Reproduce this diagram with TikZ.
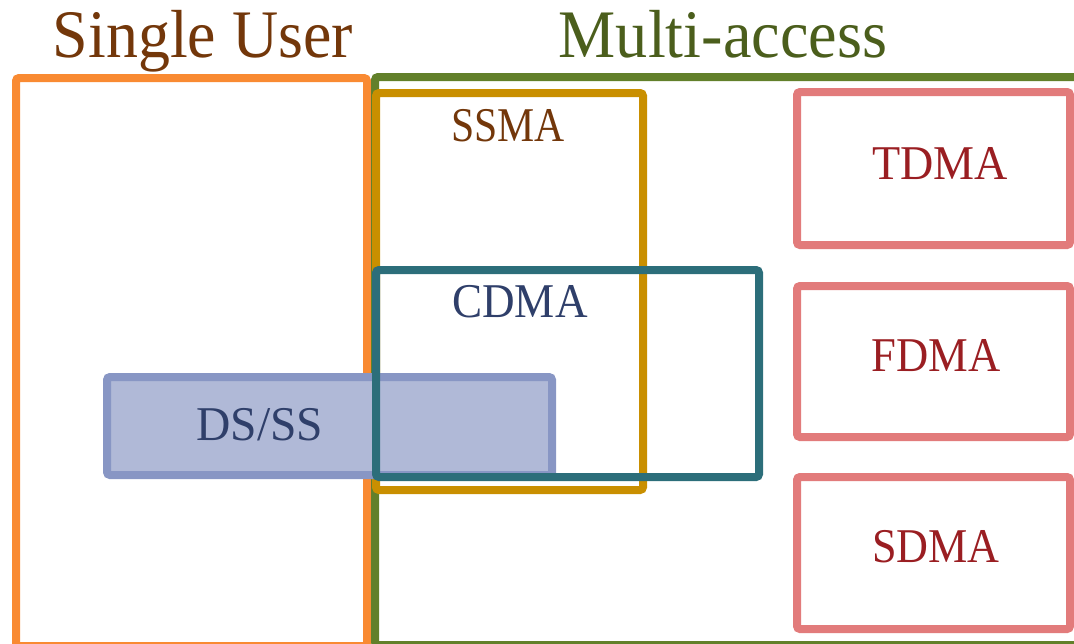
\documentclass[tikz,border=0pt]{standalone}
\usepackage{fontspec}
\setmainfont{Liberation Serif}
\definecolor{cOrange}{HTML}{F98A32}
\definecolor{cGreen}{HTML}{62802A}
\definecolor{cGold}{HTML}{C98F00}
\definecolor{cTeal}{HTML}{2C6E7A}
\definecolor{cDsFill}{HTML}{B0B9D7}
\definecolor{cDsLine}{HTML}{8896C4}
\definecolor{cRed}{HTML}{E27B7B}
\definecolor{tBrown}{HTML}{73370A}
\definecolor{tGreen}{HTML}{4B5E1C}
\definecolor{tBlue}{HTML}{2F3F6A}
\definecolor{tRed}{HTML}{9A1E22}
\begin{document}
\begin{tikzpicture}[x=1pt,y=-1pt,
  boxline/.style={line width=8pt, rounded corners=3pt},
  title/.style={anchor=base, inner sep=0pt, font=\fontsize{68}{72}\selectfont},
  lbl/.style={anchor=base, inner sep=0pt, font=\fontsize{48.5}{52}\selectfont}]
\useasboundingbox (0,0) rectangle (1074,643);
\begin{scope}
\clip (0,0) rectangle (1074,643);
% Single user
\draw[boxline, cOrange] (16,78) rectangle (367,646);
% Multi-access
\draw[boxline, cGreen] (375,77) rectangle (1090,645);
% SSMA
\draw[boxline, cGold] (376,93) rectangle (643,490);
% TDMA / FDMA / SDMA
\draw[boxline, cRed] (797,92) rectangle (1070,245);
\draw[boxline, cRed] (797,286) rectangle (1070,437);
\draw[boxline, cRed] (797,477) rectangle (1070,629);
% DS/SS
\draw[boxline, draw=cDsLine, fill=cDsFill] (107,377) rectangle (552,475);
% CDMA
\draw[boxline, cTeal] (376,270) rectangle (759,477);
\end{scope}
\node[title, text=tBrown] (single) at (203,57) {\scalebox{0.94}[1]{Single User}};
\node[title, text=tGreen] (multi) at (723,57) {\scalebox{0.945}[1]{Multi-access}};
\node[lbl, text=tBrown] (ssma) at (508,141) {\scalebox{0.86}[1]{SSMA}};
\node[lbl, text=tBlue] (cdma) at (520,317) {\scalebox{0.93}[1]{CDMA}};
\node[lbl, text=tBlue] (dsss) at (260,440) {\scalebox{0.98}[1]{DS/SS}};
\node[lbl, text=tRed] (tdma) at (940,179) {\scalebox{0.95}[1]{TDMA}};
\node[lbl, text=tRed] (fdma) at (936,371) {\scalebox{0.92}[1]{FDMA}};
\node[lbl, text=tRed] (sdma) at (936,562) {\scalebox{0.91}[1]{SDMA}};
\end{tikzpicture}
\end{document}
